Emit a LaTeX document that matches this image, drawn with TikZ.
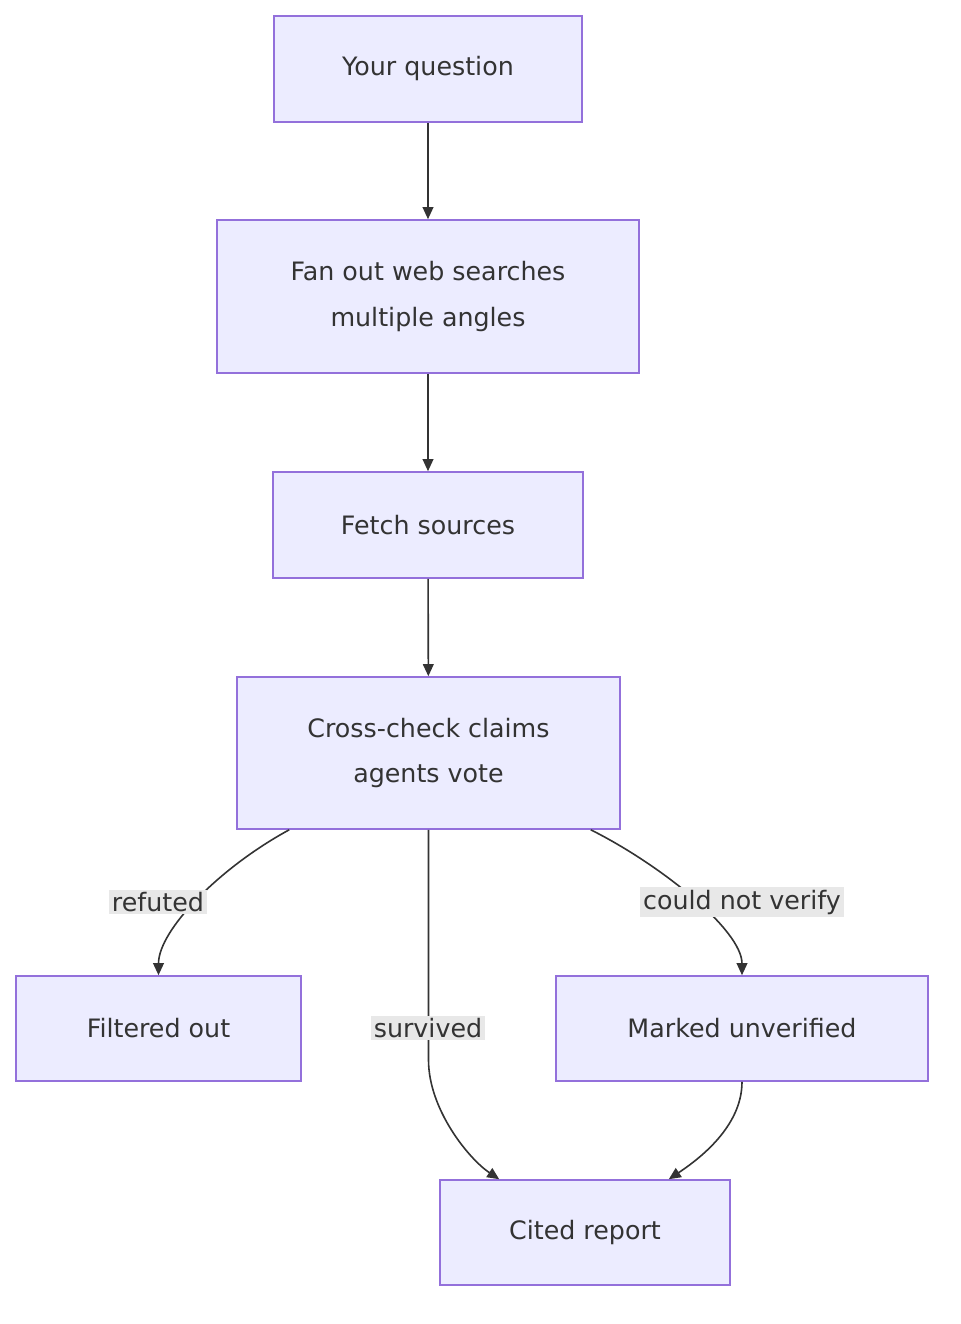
\documentclass[tikz,border=0pt]{standalone}
\usepackage{fontspec}
\setmainfont{DejaVu Sans}
\usetikzlibrary{arrows.meta,calc}
\definecolor{boxfill}{HTML}{ECECFF}
\definecolor{boxline}{HTML}{9370DB}
\definecolor{edge}{HTML}{333333}
\definecolor{lblbg}{HTML}{E8E8E8}
\begin{document}
\begin{tikzpicture}[x=0.75pt,y=-0.75pt,
  stepbox/.style={draw=boxline, fill=boxfill, line width=1.2pt, rectangle, align=center,
    font=\fontsize{19}{34}\selectfont, text=edge, inner sep=0pt},
  lbl/.style={fill=lblbg, font=\fontsize{19}{22}\selectfont, text=edge, inner sep=2pt},
  arr/.style={draw=edge, line width=1.2pt, -{Triangle[length=9pt,width=8pt]}},
]
\useasboundingbox (0,0) rectangle (960,1324);

\node (q) [stepbox, minimum width=231pt, minimum height=79.5pt] at (428,69) {Your question};
\node (fan) [stepbox, minimum width=316.5pt, minimum height=114.75pt] at (428,296.5) {Fan out web searches\\multiple angles};
\node (fetch) [stepbox, minimum width=232.5pt, minimum height=79.5pt] at (428,525) {Fetch sources};
\node (cross) [stepbox, minimum width=287.25pt, minimum height=114pt] at (428.5,753) {Cross-check claims\\agents vote};
\node (filt) [stepbox, minimum width=213.75pt, minimum height=78.75pt] at (158.5,1028.5) {Filtered out};
\node (unv) [stepbox, minimum width=279pt, minimum height=78.75pt] at (742,1028.5) {Marked unverified};
\node (rep) [stepbox, minimum width=217.5pt, minimum height=78.75pt] at (585,1232.5) {Cited report};

\draw[arr] (q) -- (fan);
\draw[arr] (fan) -- (fetch);
\draw[arr] (fetch) -- (cross);
\draw[arr] ($(cross.south west)+(53,0)$) .. controls +(-70,38) and +(0,-45) .. (filt.north);
\draw[arr] (cross.south) -- ++(0,230) .. controls +(0,50) and +(-30,-20) .. ($(rep.north west)+(60,0)$);
\draw[arr] ($(cross.south east)+(-30,0)$) .. controls +(70,35) and +(0,-45) .. (unv.north);
\draw[arr] (unv.south) .. controls +(0,45) and +(30,-20) .. ($(rep.north east)+(-62,0)$);

\node (lref) [lbl] at (158,902) {refuted};
\node (lsur) [lbl] at (428,1028) {survived};
\node (lver) [lbl] at (742,902) {could not verify};
\end{tikzpicture}
\end{document}
